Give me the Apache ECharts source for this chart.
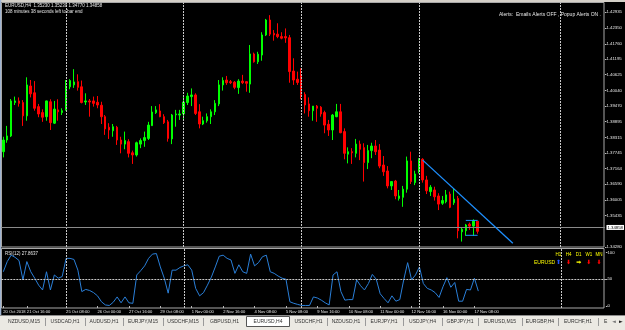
<!DOCTYPE html>
<html>
<head>
<meta charset="utf-8">
<script src="https://cdn.jsdelivr.net/npm/echarts@6/dist/echarts.min.js"></script>
<style>
html,body{margin:0;padding:0;background:#000;}
#c1{width:625px;height:330px;}
</style>
</head>
<body>
<div id="c1"></div>
<script>
// EURUSD H4 bars, left to right
const opens = [1.3779,1.3822,1.3837,1.3960,1.3966,1.3960,1.3911,1.4021,1.3996,1.3945,
  1.3923,1.3908,1.3963,1.3884,1.3933,1.3923,1.3933,1.4018,1.4025,1.4037,
  1.4018,1.3962,1.3966,1.3966,1.3961,1.3950,1.3908,1.3869,1.3856,1.3869,
  1.3822,1.3807,1.3816,1.3775,1.3767,1.3807,1.3820,1.3828,1.3875,1.3923,
  1.3929,1.3908,1.3889,1.3826,1.3915,1.3914,1.3918,1.3960,1.3982,1.3988,
  1.3926,1.3881,1.3893,1.3908,1.3926,1.3955,1.4025,1.4043,1.4037,1.4035,
  1.4015,1.4039,1.4037,1.4028,1.4139,1.4110,1.4135,1.4209,1.4264,1.4215,
  1.4212,1.4203,1.4203,1.4199,1.4076,1.4046,1.4058,1.3990,1.3955,1.3930,
  1.3947,1.3943,1.3923,1.3880,1.3859,1.3908,1.3926,1.3853,1.3770,1.3779,
  1.3773,1.3807,1.3794,1.3739,1.3783,1.3800,1.3785,1.3730,1.3708,1.3653,
  1.3671,1.3607,1.3611,1.3641,1.3745,1.3665,1.3705,1.3751,1.3675,1.3632,
  1.3638,1.3616,1.3589,1.3595,1.3623,1.3591,1.3607,1.3484,1.3488,1.3512,
  1.3505,1.35230];
const closes = [1.3822,1.3837,1.3966,1.3966,1.3957,1.3911,1.4025,1.3992,1.3939,1.3918,
  1.3906,1.3966,1.3886,1.3936,1.3926,1.3930,1.4021,1.4041,1.4036,1.4016,
  1.3960,1.3966,1.3962,1.3957,1.3951,1.3908,1.3863,1.3859,1.3871,1.3822,
  1.3807,1.3820,1.3773,1.3767,1.3812,1.3820,1.3831,1.3877,1.3925,1.3933,
  1.3908,1.3886,1.3828,1.3914,1.3918,1.3918,1.3962,1.3984,1.3988,1.3920,
  1.3881,1.3893,1.3908,1.3926,1.3957,1.4025,1.4041,1.4033,1.4033,1.4016,
  1.4039,1.4033,1.4031,1.4139,1.4110,1.4138,1.4209,1.4264,1.4212,1.4209,
  1.4203,1.4197,1.4198,1.4074,1.4043,1.4034,1.3988,1.3951,1.3930,1.3947,
  1.3939,1.3918,1.3877,1.3859,1.3914,1.3926,1.3849,1.3773,1.3779,1.3775,
  1.3807,1.3788,1.3739,1.3783,1.3800,1.3779,1.3726,1.3705,1.3653,1.3669,
  1.3616,1.3616,1.3641,1.3745,1.3669,1.3697,1.3751,1.3675,1.3635,1.3648,
  1.3613,1.3586,1.3599,1.3620,1.3574,1.3604,1.3488,1.3493,1.3509,1.3505,
  1.3525,1.34858];
const lows = [1.3758,1.3812,1.3833,1.3951,1.3945,1.3874,1.3893,1.3979,1.3930,1.3906,
  1.3889,1.3893,1.3859,1.3881,1.3893,1.3914,1.3930,1.4009,1.4014,1.4004,
  1.3957,1.3951,1.3908,1.3945,1.3939,1.3881,1.3841,1.3826,1.3834,1.3804,
  1.3773,1.3788,1.3758,1.3734,1.3761,1.3792,1.3797,1.3822,1.3874,1.3918,
  1.3906,1.3881,1.3816,1.3807,1.3871,1.3896,1.3896,1.3951,1.3947,1.3914,
  1.3865,1.3877,1.3886,1.3881,1.3914,1.3947,1.4004,1.4025,1.4028,1.4009,
  1.3992,1.4028,1.4000,1.3996,1.4107,1.4102,1.4114,1.4205,1.4205,1.4188,
  1.4197,1.4193,1.4180,1.4033,1.4025,1.4025,1.3972,1.3920,1.3908,1.3893,
  1.3889,1.3908,1.3847,1.3837,1.3822,1.3906,1.3847,1.3751,1.3736,1.3734,
  1.3758,1.3748,1.3669,1.3715,1.3755,1.3767,1.3718,1.3690,1.3644,1.3638,
  1.3604,1.3599,1.3576,1.3628,1.3660,1.3656,1.3699,1.3665,1.3623,1.3616,
  1.3599,1.3564,1.3583,1.3589,1.3571,1.3583,1.3460,1.3448,1.3469,1.3491,
  1.3469,1.34770];
const highs = [1.3834,1.3874,1.3973,1.3982,1.3979,1.3969,1.4053,1.4043,1.4039,1.3955,
  1.3935,1.3967,1.3972,1.3966,1.3972,1.3939,1.4043,1.4046,1.4083,1.4064,
  1.4041,1.3994,1.3973,1.3982,1.3984,1.3963,1.3914,1.3884,1.3881,1.3874,
  1.3834,1.3853,1.3825,1.3783,1.3816,1.3828,1.3853,1.3889,1.3947,1.3947,
  1.3954,1.3917,1.3896,1.3918,1.3933,1.3933,1.3982,1.3996,1.4012,1.3994,
  1.3954,1.3908,1.3920,1.3935,1.3969,1.4043,1.4053,1.4058,1.4043,1.4039,
  1.4046,1.4062,1.4039,1.4172,1.4144,1.4147,1.4219,1.4268,1.4282,1.4227,
  1.4252,1.4219,1.4233,1.4209,1.4123,1.4074,1.4086,1.3998,1.3979,1.3947,
  1.3951,1.3947,1.3930,1.3896,1.3918,1.3955,1.3955,1.3865,1.3795,1.3792,
  1.3826,1.3820,1.3810,1.3804,1.3812,1.3822,1.3807,1.3763,1.3726,1.3669,
  1.3675,1.3638,1.3653,1.3761,1.3779,1.3709,1.3755,1.3755,1.3690,1.3656,
  1.3650,1.3626,1.3616,1.3638,1.3632,1.3644,1.3616,1.3501,1.3513,1.3518,
  1.3530,1.35230];
// RSI(12) per bar
const rsi = [64,83,95,91,85,49,83,64,52,39,
  30,64,30,58,52,55,89,89,87,67,
  27,31,29,25,19,8,2,1,7,17,
  6,17,6,5,58,66,75,89,97,98,
  73,52,24,67,67,72,75,77,67,33,
  19,25,39,54,73,93,95,89,86,61,
  77,64,61,97,75,81,92,95,64,61,
  56,52,50,8,5,3,1,1,1,17,
  15,11,6,2,58,64,27,11,12,12,
  49,38,30,42,59,50,23,14,6,19,
  9,12,49,81,49,58,73,42,33,30,
  25,16,36,53,35,44,9,9,31,30,
  52,27.8637];

// time axis labels (bar index -> text)
const tickBars = [0,6,16,24,32,40,48,56,64,72,80,88,96,104,112,120];
const tickLabels = ['20 Oct 2018','21 Oct 16:00','25 Oct 08:00','26 Oct 00:00','27 Oct 16:00',
  '29 Oct 08:00','1 Nov 00:00','2 Nov 16:00','4 Nov 08:00','5 Nov 08:00','9 Nov 16:00',
  '10 Nov 08:00','11 Nov 00:00','12 Nov 16:00','16 Nov 00:00','17 Nov 08:00'];
const priceTicks = [1.42935,1.42350,1.41760,1.41195,1.40625,1.40040,1.39470,1.38895,
  1.38315,1.37745,1.37164,1.36590,1.36005,1.35435,1.34280];
const rsiTicks = [0,50,100];
const bidPrice = 1.34858;
const gridBars = [16,46,76,106,142];

// drawn objects
const trendLine = [[107,1.3748],[130,1.3442]];
const rangeHigh = [[118,1.3526],[121,1.3526]];
const rangeLow = [[118,1.3471],[121,1.3471]];

// signal panel
const periods = ['H1','H4','D1','W1','MN'];
const signals = ['⬆','⬇','➡','⬇','⬇'];
const signalColors = ['#2457ff','#ff0000','#ffff00','#ff0000','#ff0000'];

// terminal tabs
const tabNames = ['NZDUSD,M15','USDCAD,H1','AUDUSD,H1','EURJPY,M15','USDCHF,M15','GBPUSD,H1',
  'EURUSD,H4','USDCHF,H1','NZDUSD,H1','EURJPY,H1','USDJPY,H4','GBPJPY,H1','EURUSD,M15',
  'EURGBP,H4','EURCHF,H1','E'];
const tabEdges = [3,45,85,123,163,203,246,290,327,365,403,442,478,522,558,598,611];
const activeTab = 6;

const barCount = 154;
const categories = [];
for (let i = 0; i < barCount; i++) categories.push(String(i));

const candles = opens.map((o, i) => [o, closes[i], lows[i], highs[i]]);
const labelAt = {};
tickBars.forEach((b, i) => { labelAt[b] = tickLabels[i]; });

const font = 'Liberation Sans, Arial, sans-serif';
const fg = '#e6e6e6';

let chart = echarts.init(document.getElementById('c1'), null, {renderer: 'canvas'});

let gridMarks = gridBars.map(b => ({xAxis: b}));

let graphics = [
  // window chrome
  {type: 'rect', shape: {x: 0, y: 0, width: 625, height: 2}, style: {fill: '#d4d0c8'}},
  {type: 'rect', shape: {x: 0, y: 0, width: 1.3, height: 316}, style: {fill: '#9fb4d2'}},
  // pane frames
  {type: 'rect', shape: {x: 1.5, y: 2.5, width: 602.5, height: 244.5}, style: {fill: null, stroke: '#a8a8a8', lineWidth: 1}},
  {type: 'rect', shape: {x: 1.5, y: 248.5, width: 602.5, height: 59.5}, style: {fill: null, stroke: '#a8a8a8', lineWidth: 1}},
  {type: 'text', left: 5, top: 3.5, style: {text: 'EURUSD,H4  1.35230 1.35230 1.34770 1.34858', fill: fg, font: '4.5px ' + font}},
  {type: 'text', left: 5, top: 9, style: {text: '108 minutes 38 seconds left to bar end', fill: fg, font: '4.5px ' + font}},
  {type: 'text', right: 24, top: 12.5, style: {text: 'Alerts:  Emails Alerts OFF , Popup Alerts ON .', fill: fg, font: '5px ' + font}},
  {type: 'text', left: 5, top: 251, style: {text: 'RSI(12) 27.8637', fill: fg, font: '4.5px ' + font}},
  {type: 'text', left: 534, top: 260.5, style: {text: 'EURUSD', fill: '#ffff00', font: '5px ' + font}},
  // tab strip
  {type: 'rect', shape: {x: 0, y: 315.5, width: 625, height: 14.5}, style: {fill: '#ebe9e3'}},
  {type: 'line', shape: {x1: 0, y1: 315.5, x2: 625, y2: 315.5}, style: {stroke: '#8c8c8c', lineWidth: 1}}
];

periods.forEach((p, i) => {
  let cx = 558.5 + i * 10.1;
  graphics.push({type: 'text', x: cx, y: 255, style: {text: p, fill: '#ffff00', font: '4.5px ' + font, align: 'center', verticalAlign: 'middle'}});
  graphics.push({type: 'text', x: cx, y: 262.7, style: {text: signals[i], fill: signalColors[i], font: 'bold 6px DejaVu Sans', align: 'center', verticalAlign: 'middle'}});
});

tabNames.forEach((name, i) => {
  let x0 = tabEdges[i], x1 = tabEdges[i + 1];
  if (i === activeTab) {
    graphics.push({type: 'rect', shape: {x: x0 + 0.5, y: 316.5, width: x1 - x0 - 1, height: 10}, style: {fill: '#fff', stroke: '#555', lineWidth: 1}});
  } else if (i < tabNames.length - 1 && i + 1 !== activeTab) {
    graphics.push({type: 'line', shape: {x1: x1 + 0.5, y1: 318, x2: x1 + 0.5, y2: 326}, style: {stroke: '#9a9a9a', lineWidth: 1}});
  }
  let last = i === tabNames.length - 1;
  graphics.push({type: 'text', x: last ? x0 + 6 : (x0 + x1) / 2, y: 322, style: {text: name, fill: '#333', font: '5px ' + font, align: last ? 'left' : 'center', verticalAlign: 'middle'}});
});
graphics.push({type: 'text', x: 614, y: 322, style: {text: '◄', fill: '#777', font: '5px DejaVu Sans', align: 'center', verticalAlign: 'middle'}});
graphics.push({type: 'text', x: 621, y: 322, style: {text: '►', fill: '#222', font: '5px DejaVu Sans', align: 'center', verticalAlign: 'middle'}});

let option = {
  backgroundColor: '#000',
  animation: false,
  grid: [
    {left: 1.34, top: 2.5, width: 604.56, height: 244.5},
    {left: 1.34, top: 249, width: 604.56, height: 59}
  ],
  xAxis: [
    {type: 'category', gridIndex: 0, data: categories, boundaryGap: true, show: false},
    {
      type: 'category', gridIndex: 1, data: categories, boundaryGap: true,
      axisLine: {show: false},
      axisTick: {show: true, alignWithLabel: true, length: 2, interval: (i) => labelAt[i] !== undefined, lineStyle: {color: '#bbb'}},
      axisLabel: {
        interval: (i) => labelAt[i] !== undefined,
        formatter: (v, i) => labelAt[i] || '',
        showMinLabel: true, hideOverlap: false,
        color: fg, fontSize: 4.1, fontFamily: font, align: 'left', margin: 2
      },
      splitLine: {show: false}
    }
  ],
  yAxis: [
    {
      type: 'value', gridIndex: 0, position: 'right', min: 1.3428, max: 1.43285, scale: true,
      splitLine: {show: false}, axisLine: {show: false},
      axisTick: {show: true, length: 1.5, customValues: priceTicks, lineStyle: {color: '#bbb'}},
      axisLabel: {customValues: priceTicks, formatter: (v) => v.toFixed(5), color: fg, fontSize: 4.3, fontFamily: font, margin: 1.5}
    },
    {
      type: 'value', gridIndex: 1, position: 'right', min: -3.7, max: 106.5,
      splitLine: {show: false}, axisLine: {show: false},
      axisTick: {show: true, length: 1.5, customValues: rsiTicks, lineStyle: {color: '#bbb'}},
      axisLabel: {customValues: rsiTicks, color: fg, fontSize: 4.3, fontFamily: font, margin: 1.5}
    }
  ],
  graphic: graphics,
  series: [
    {
      name: 'EURUSD,H4', type: 'candlestick', xAxisIndex: 0, yAxisIndex: 0,
      data: candles, barWidth: 2, clip: false,
      itemStyle: {color: '#00ff00', color0: '#ff0000', borderColor: '#00ff00', borderColor0: '#ff0000', borderWidth: 1},
      markLine: {
        silent: true, symbol: 'none', animation: false,
        lineStyle: {color: '#c8c8c8', type: [2, 1], width: 1},
        label: {show: false},
        data: gridMarks.concat([{
          yAxis: bidPrice,
          lineStyle: {color: '#8a8a8a', type: 'solid', width: 1},
          label: {show: true, position: 'end', formatter: bidPrice.toFixed(5), distance: 1.5,
            color: '#000', backgroundColor: '#ffffff', fontSize: 4.3, fontFamily: font, padding: [0.5, 1]}
        }])
      }
    },
    {type: 'line', xAxisIndex: 0, yAxisIndex: 0, data: trendLine, symbol: 'none', lineStyle: {color: '#1e90ff', width: 1.3}, z: 5},
    {type: 'line', xAxisIndex: 0, yAxisIndex: 0, data: rangeHigh, symbol: 'none', lineStyle: {color: '#1e90ff', width: 1}, z: 5},
    {type: 'line', xAxisIndex: 0, yAxisIndex: 0, data: rangeLow, symbol: 'none', lineStyle: {color: '#1e90ff', width: 1}, z: 5},
    {
      name: 'RSI(12)', type: 'line', xAxisIndex: 1, yAxisIndex: 1, data: rsi,
      symbol: 'none', lineStyle: {color: '#2a7fd8', width: 1},
      markLine: {
        silent: true, symbol: 'none', animation: false,
        lineStyle: {color: '#c8c8c8', type: [2, 1], width: 1},
        label: {show: false},
        data: gridMarks.concat([{yAxis: 50}])
      }
    }
  ]
};

chart.setOption(option);
</script>
</body>
</html>
